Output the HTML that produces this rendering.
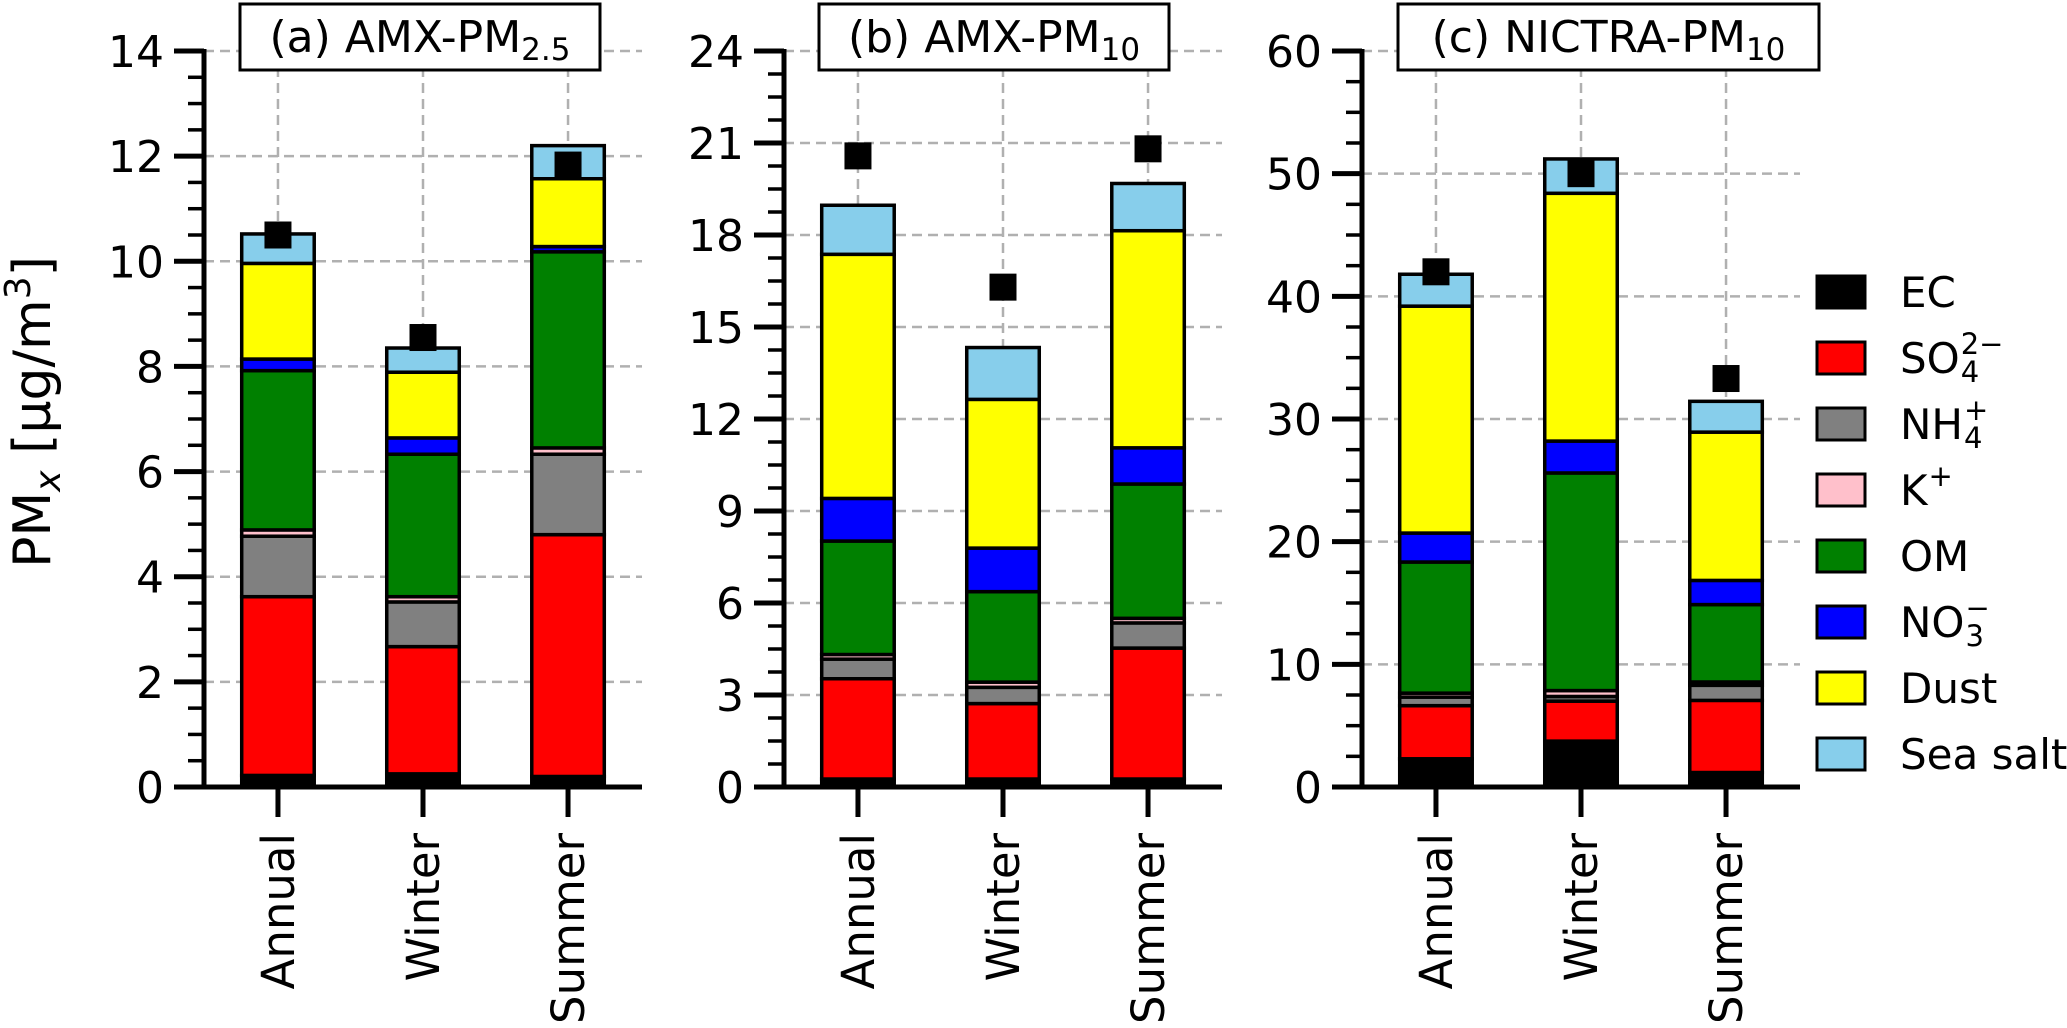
<!DOCTYPE html>
<html><head><meta charset="utf-8"><style>
html,body{margin:0;padding:0;background:#fff;}
svg{display:block;font-family:"DejaVu Sans","Liberation Sans",sans-serif;}
</style></head><body>
<svg id="chart" width="2067" height="1028" viewBox="0 0 2067 1028" xmlns="http://www.w3.org/2000/svg">
<text transform="translate(50,412) rotate(-90)" text-anchor="middle" font-size="52">PM<tspan font-style="italic" font-size="36" dy="10">x</tspan><tspan dy="-10"> [μg/m</tspan><tspan font-size="36" dy="-20">3</tspan><tspan dy="20">]</tspan></text>
</svg>
<script>
const categories = ["Annual", "Winter", "Summer"];
const componentNames = ["EC", "SO4", "NH4", "K", "OM", "NO3", "Dust", "Sea salt"];
const componentColors = ["#000000", "#ff0000", "#808080", "#ffc0cb", "#008000", "#0000ff", "#ffff00", "#87ceeb"];
// values per category: [EC, SO4, NH4, K, OM, NO3, Dust, Sea salt]
const panelA_values = [[0.22,3.40,1.15,0.12,3.03,0.22,1.82,0.56],[0.25,2.42,0.85,0.10,2.71,0.31,1.25,0.46],[0.20,4.60,1.53,0.12,3.73,0.10,1.29,0.63]];
const panelB_values = [[0.26,3.27,0.64,0.15,3.70,1.39,7.96,1.60],[0.26,2.46,0.53,0.17,2.95,1.42,4.85,1.69],[0.26,4.27,0.82,0.15,4.38,1.18,7.08,1.54]];
const panelC_values = [[2.3,4.33,0.70,0.32,10.69,2.36,18.5,2.6],[3.74,3.26,0.38,0.48,17.74,2.6,20.2,2.8],[1.18,5.88,1.23,0.27,6.31,1.97,12.09,2.51]];
const panelA_measured = [10.5, 8.55, 11.83];
const panelB_measured = [20.58, 16.3, 20.81];
const panelC_measured = [42.0, 50.0, 33.3];
const panelA_ticks = [0,2,4,6,8,10,12,14];
const panelB_ticks = [0,3,6,9,12,15,18,21,24];
const panelC_ticks = [0,10,20,30,40,50,60];

const NS = "http://www.w3.org/2000/svg";
const svg = document.getElementById("chart");
function mk(tag, attrs, parent) {
  const e = document.createElementNS(NS, tag);
  for (const k in attrs) e.setAttribute(k, attrs[k]);
  (parent || svg).appendChild(e);
  return e;
}
const Y0 = 787, Y1 = 51;

function panel(cfg) {
  const g = mk("g", {});
  
  
  const ymax = cfg.ticks[cfg.ticks.length - 1];
  const ys = v => Y0 - (v / ymax) * (Y0 - Y1);
  const step = (cfg.right - cfg.left) / 3.02;
  const xs = i => cfg.left + (i + 0.51) * step;
  const bw = step * 0.5;
  cfg.ticks.forEach(t => {
    const l = mk("line", {x1: cfg.left, x2: cfg.right, y1: ys(t), y2: ys(t), stroke: "#b0b0b0", "stroke-width": 2.5, "stroke-dasharray": "10,6"}, g);
    
    
  });
  categories.forEach((c, i) => {
    const l = mk("line", {x1: xs(i), x2: xs(i), y1: Y1, y2: Y0, stroke: "#b0b0b0", "stroke-width": 2.5, "stroke-dasharray": "10,6"}, g);
    
    
  });
  cfg.values.forEach((vals, i) => {
    let cum = 0;
    vals.forEach((v, k) => {
      const r = mk("rect", {x: xs(i) - bw / 2, y: ys(cum + v), width: bw, height: ys(cum) - ys(cum + v), fill: componentColors[k], stroke: "#000", "stroke-width": 3.5}, g);
      
      
      cum += v;
    });
  });
  cfg.measured.forEach((v, i) => {
    const m = mk("rect", {x: xs(i) - 13.5, y: ys(v) - 13.5, width: 27, height: 27, fill: "#000"}, g);
    
    
  });
  const nMinor = Math.round(ymax / cfg.minor);
  for (let j = 0; j <= nMinor; j++) {
    const v = j * cfg.minor;
    mk("line", {x1: cfg.left - 16, x2: cfg.left, y1: ys(v), y2: ys(v), stroke: "#000", "stroke-width": 3.5}, g);
  }
  cfg.ticks.forEach(t => {
    mk("line", {x1: cfg.left - 30, x2: cfg.left, y1: ys(t), y2: ys(t), stroke: "#000", "stroke-width": 5}, g);
    const tx = mk("text", {x: cfg.left - 40, y: ys(t) + 16, "text-anchor": "end", "font-size": 44}, g);
    tx.textContent = t;
    
    
  });
  categories.forEach((c, i) => {
    mk("line", {x1: xs(i), x2: xs(i), y1: Y0, y2: Y0 + 30, stroke: "#000", "stroke-width": 5}, g);
    const tx = mk("text", {transform: "translate(" + (xs(i) + 16) + "," + (Y0 + 46) + ") rotate(-90)", "text-anchor": "end", "font-size": 45}, g);
    tx.textContent = c;
    
    
  });
  mk("line", {x1: cfg.left, x2: cfg.left, y1: Y1 - 2, y2: Y0 + 2.5, stroke: "#000", "stroke-width": 5}, g);
  mk("line", {x1: cfg.left - 2.5, x2: cfg.right, y1: Y0, y2: Y0, stroke: "#000", "stroke-width": 5}, g);
  const tb = mk("rect", {x: cfg.tx, y: 4, width: cfg.tw, height: 66, fill: "#fff", stroke: "#000", "stroke-width": 3}, g);
  
  
  const tt = mk("text", {x: cfg.tx + cfg.tw / 2, y: 52, "text-anchor": "middle", "font-size": 44}, g);
  
  
  tt.innerHTML = cfg.title + '<tspan font-size="31" dy="8">' + cfg.sub + '</tspan>';
}

panel({name: "panel-a-amx-pm25", left: 204, right: 642, values: panelA_values, measured: panelA_measured, ticks: panelA_ticks, minor: 0.5, tx: 240, tw: 360, title: "(a) AMX-PM", sub: "2.5"});
panel({name: "panel-b-amx-pm10", left: 784, right: 1222, values: panelB_values, measured: panelB_measured, ticks: panelB_ticks, minor: 0.75, tx: 819, tw: 350, title: "(b) AMX-PM", sub: "10"});
panel({name: "panel-c-nictra-pm10", left: 1362, right: 1800, values: panelC_values, measured: panelC_measured, ticks: panelC_ticks, minor: 2.5, tx: 1398, tw: 421, title: "(c) NICTRA-PM", sub: "10"});

// legend: base text, subscript, superscript (stacked)
const legendBase = ["EC", "SO", "NH", "K", "OM", "NO", "Dust", "Sea salt"];
const legendSub = ["", "4", "4", "", "", "3", "", ""];
const legendSup = ["", "2−", "+", "+", "", "−", "", ""];
const lg = mk("g", {});


componentNames.forEach((n, k) => {
  const cy = 292 + k * 66;
  const r = mk("rect", {x: 1817, y: cy - 16, width: 48, height: 32, fill: componentColors[k], stroke: "#000", "stroke-width": 3}, lg);
  
  
  const t = mk("text", {x: 1900, y: cy + 15, "font-size": 42}, lg);
  t.textContent = legendBase[k];
  
  
  const w = t.getComputedTextLength();
  if (legendSub[k]) {
    const s = mk("text", {x: 1900 + w + 1, y: cy + 24, "font-size": 29}, lg);
    s.textContent = legendSub[k];
    
    
  }
  if (legendSup[k]) {
    const s = mk("text", {x: 1900 + w + 1, y: cy - 4, "font-size": 29}, lg);
    s.textContent = legendSup[k];
    
    
  }
});
</script>
</body></html>
